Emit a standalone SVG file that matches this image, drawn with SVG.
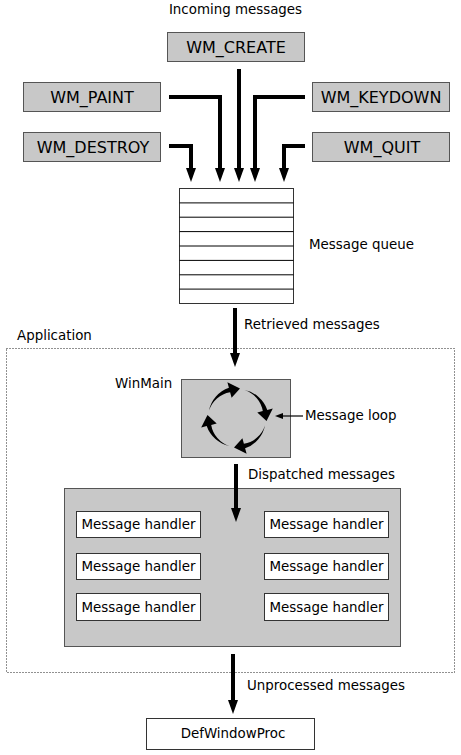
<svg xmlns="http://www.w3.org/2000/svg" width="461" height="755" viewBox="0 0 461 755">
<style>
text{font-family:"DejaVu Sans","Verdana",sans-serif;fill:#000}
.t13{font-size:13.4px}
.t16{font-size:16px}
.gray{fill:#c8c8c8;stroke:#555;stroke-width:1}
.white{fill:#fff;stroke:#333;stroke-width:1}
.thick{fill:none;stroke:#000;stroke-width:4;stroke-linejoin:miter;marker-end:url(#ah)}
.thin{fill:none;stroke:#000;stroke-width:1.2;marker-end:url(#ahs)}
</style>
<defs>
<marker id="ah" markerUnits="userSpaceOnUse" viewBox="0 0 14 10" refX="1" refY="5" markerWidth="14" markerHeight="10" orient="auto">
<path d="M0,0 L14,5 L0,10 z" fill="#000"/>
</marker>
<marker id="ahs" markerUnits="userSpaceOnUse" viewBox="0 0 8 6" refX="1" refY="3" markerWidth="8" markerHeight="6" orient="auto">
<path d="M0,0 L8,3 L0,6 z" fill="#000"/>
</marker>
<path id="loopArrow" d="M-28,-7.5 A30.5 30.5 0 0 1 -8.1,-30.3 L-9.6,-35.8 L3,-29.5 L-5.4,-20.3 L-6.9,-25.8 A27 27 0 0 0 -28,-7.5 Z" fill="#000"/>
</defs>

<text class="t13" x="235.5" y="14" text-anchor="middle">Incoming messages</text>

<g id="wm_create"><rect class="gray" x="167.5" y="32.5" width="137" height="29"/><text class="t16" x="236" y="53" text-anchor="middle">WM_CREATE</text></g>
<g id="wm_paint"><rect class="gray" x="23.5" y="82.5" width="137" height="29"/><text class="t16" x="92" y="102.5" text-anchor="middle">WM_PAINT</text></g>
<g id="wm_keydown"><rect class="gray" x="312.5" y="82.5" width="137" height="29"/><text class="t16" x="381" y="102.5" text-anchor="middle">WM_KEYDOWN</text></g>
<g id="wm_destroy"><rect class="gray" x="23.5" y="132.5" width="137" height="29"/><text class="t16" x="93" y="153" text-anchor="middle">WM_DESTROY</text></g>
<g id="wm_quit"><rect class="gray" x="312.5" y="132.5" width="137" height="29"/><text class="t16" x="382" y="153" text-anchor="middle">WM_QUIT</text></g>

<g id="queue">
<rect x="179.5" y="188.5" width="114" height="115" fill="#fff" stroke="#333" stroke-width="1"/>
<g stroke="#000" stroke-width="1">
<line x1="179.5" y1="202.9" x2="293.5" y2="202.9"/>
<line x1="179.5" y1="217.2" x2="293.5" y2="217.2"/>
<line x1="179.5" y1="231.6" x2="293.5" y2="231.6"/>
<line x1="179.5" y1="246" x2="293.5" y2="246"/>
<line x1="179.5" y1="260.4" x2="293.5" y2="260.4"/>
<line x1="179.5" y1="274.8" x2="293.5" y2="274.8"/>
<line x1="179.5" y1="289.1" x2="293.5" y2="289.1"/>
</g>
<text class="t13" x="309" y="249">Message queue</text>
</g>

<g id="application">
<rect x="6.5" y="348.5" width="448" height="324" fill="none" stroke="#222" stroke-width="1" stroke-dasharray="1 2"/>
<text class="t13" x="17" y="340">Application</text>
</g>

<g id="winmain">
<rect class="gray" x="181.5" y="379.5" width="109" height="78"/>
<text class="t13" x="115" y="388">WinMain</text>
<g transform="translate(237 418)">
<use href="#loopArrow"/>
<use href="#loopArrow" transform="rotate(90)"/>
<use href="#loopArrow" transform="rotate(180)"/>
<use href="#loopArrow" transform="rotate(270)"/>
</g>
<text class="t13" x="305" y="420">Message loop</text>
</g>

<g id="handlers">
<rect class="gray" x="64.5" y="488.5" width="336" height="158"/>
<g id="h1"><rect class="white" x="76.5" y="511.5" width="124" height="26"/><text class="t13" x="138.5" y="529" text-anchor="middle">Message handler</text></g>
<g id="h2"><rect class="white" x="264.5" y="511.5" width="124" height="26"/><text class="t13" x="326.5" y="529" text-anchor="middle">Message handler</text></g>
<g id="h3"><rect class="white" x="76.5" y="553.5" width="124" height="26"/><text class="t13" x="138.5" y="571" text-anchor="middle">Message handler</text></g>
<g id="h4"><rect class="white" x="264.5" y="553.5" width="124" height="26"/><text class="t13" x="326.5" y="571" text-anchor="middle">Message handler</text></g>
<g id="h5"><rect class="white" x="76.5" y="593.5" width="124" height="27"/><text class="t13" x="138.5" y="612" text-anchor="middle">Message handler</text></g>
<g id="h6"><rect class="white" x="264.5" y="593.5" width="124" height="27"/><text class="t13" x="326.5" y="612" text-anchor="middle">Message handler</text></g>
</g>

<g id="defwindowproc">
<rect class="white" x="146.5" y="718.5" width="168" height="31"/>
<text class="t13" x="233" y="738" text-anchor="middle">DefWindowProc</text>
</g>

<g id="connectors">
<path class="thick" d="M239,69 V169"/>
<path class="thick" d="M169,97 H220 V169"/>
<path class="thick" d="M305,97 H255 V169"/>
<path class="thick" d="M169,146 H191 V169"/>
<path class="thick" d="M305,146 H284 V169"/>
<path class="thick" d="M235,308 V354"/>
<path class="thick" d="M236,464 V509"/>
<path class="thick" d="M233,654 V701"/>
<path class="thin" d="M303,416 H282"/>
</g>
<text class="t13" x="244" y="329">Retrieved messages</text>
<text class="t13" x="248" y="479">Dispatched messages</text>
<text class="t13" x="247" y="690">Unprocessed messages</text>
</svg>
